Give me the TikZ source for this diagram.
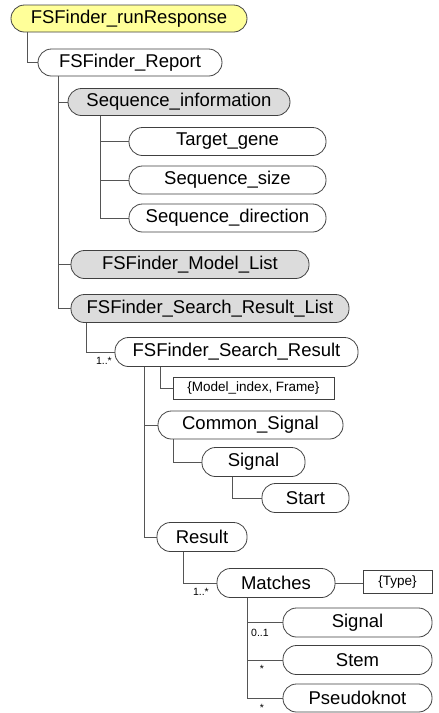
\documentclass[tikz,border=0pt]{standalone}
\usepackage{fontspec}
\setmainfont{Liberation Sans}
\definecolor{rootfill}{HTML}{FFFF99}
\definecolor{grayfill}{HTML}{DCDCDC}
\definecolor{edge}{HTML}{404040}
\definecolor{connc}{HTML}{555555}
\begin{document}
\begin{tikzpicture}[x=1pt,y=-1pt,
  box/.style={draw=edge, line width=0.8pt, rounded corners=13.5pt, minimum height=28pt, inner sep=0pt, font=\fontsize{18.5}{18.5}\selectfont},
  attr/.style={draw=edge, line width=0.8pt, inner sep=0pt, font=\fontsize{13.5}{13.5}\selectfont},
  conn/.style={draw=connc, line width=1pt},
  card/.style={font=\fontsize{10.5}{11}\selectfont, inner sep=0pt}]
\useasboundingbox (0,0) rectangle (439,713);
\fill[white] (0,0) rectangle (439,713);

% nodes
\node[box, fill=rootfill, minimum width=236pt, minimum height=27pt] (rr) at (129,18.5) {FSFinder\_runResponse};
\node[box, fill=white, minimum width=184pt, minimum height=27pt] (rep) at (130,62.5) {FSFinder\_Report};
\node[box, fill=grayfill, minimum width=222pt, minimum height=27pt] (si) at (179,102) {Sequence\_information};
\node[box, fill=white, minimum width=197pt] (tg) at (227.5,141.5) {Target\_gene};
\node[box, fill=white, minimum width=197pt] (ss) at (227.5,180) {Sequence\_size};
\node[box, fill=white, minimum width=197pt] (sd) at (227.5,218) {Sequence\_direction};
\node[box, fill=grayfill, minimum width=238pt] (ml) at (190,264.5) {FSFinder\_Model\_List};
\node[box, fill=grayfill, minimum width=278pt] (srl) at (210,308.5) {FSFinder\_Search\_Result\_List};
\node[box, fill=white, minimum width=243pt, minimum height=29pt] (sr) at (236.5,352) {FSFinder\_Search\_Result};
\node[attr, fill=white, minimum width=161pt, minimum height=22pt] (mif) at (253.5,388) {\{Model\_index, Frame\}};
\node[box, fill=white, minimum width=185pt] (cs) at (250.5,425) {Common\_Signal};
\node[box, fill=white, minimum width=103pt, minimum height=29pt] (sigA) at (253.5,462) {Signal};
\node[box, fill=white, minimum width=87pt, minimum height=29pt] (start) at (305.5,498) {Start};
\node[box, fill=white, minimum width=90pt, minimum height=29pt] (res) at (202,537) {Result};
\node[box, fill=white, minimum width=118pt, minimum height=29pt] (mat) at (276,583) {Matches};
\node[attr, fill=white, minimum width=69pt, minimum height=23pt] (type) at (397.5,582) {\{Type\}};
\node[box, fill=white, minimum width=149pt, minimum height=29pt] (sigB) at (357.5,622.5) {Signal};
\node[box, fill=white, minimum width=149pt, minimum height=29pt] (stem) at (357.5,660) {Stem};
\node[box, fill=white, minimum width=149pt, minimum height=28pt] (pk) at (357.5,698) {Pseudoknot};

% x positions of the trunk lines
\coordinate (xa) at (27,0);
\coordinate (xb) at (58,0);
\coordinate (xc) at (100,0);
\coordinate (xd) at (86,0);
\coordinate (xe) at (160,0);
\coordinate (xf) at (144,0);
\coordinate (xg) at (173,0);
\coordinate (xh) at (232,0);
\coordinate (xi) at (183,0);
\coordinate (xj) at (247,0);

% connectors
\draw[conn] (rr.south -| xa) |- (rep.west);
\draw[conn] (rep.south -| xb) |- (si.west);
\draw[conn] (rep.south -| xb) |- (ml.west);
\draw[conn] (rep.south -| xb) |- (srl.west);
\draw[conn] (si.south -| xc) |- (tg.west);
\draw[conn] (si.south -| xc) |- (ss.west);
\draw[conn] (si.south -| xc) |- (sd.west);
\draw[conn] (srl.south -| xd) |- (sr.west);
\draw[conn] (sr.south -| xe) |- (mif.west);
\draw[conn] (sr.south -| xf) |- (cs.west);
\draw[conn] (sr.south -| xf) |- (res.west);
\draw[conn] (cs.south -| xg) |- (sigA.west);
\draw[conn] (sigA.south -| xh) |- (start.west);
\draw[conn] (res.south -| xi) |- (mat.west);
\draw[conn] (mat.east) -- (mat.east -| type.west);
\draw[conn] (mat.south -| xj) |- (sigB.west);
\draw[conn] (mat.south -| xj) |- (stem.west);
\draw[conn] (mat.south -| xj) |- (pk.west);

% cardinalities
\node[card, anchor=north east] (c1) at (112,357) {1..*};
\node[card, anchor=north east] (c2) at (209,588) {1..*};
\node[card, anchor=north west] (c3) at (251,629) {0..1};
\node[card] (c4) at (262,669) {*};
\node[card] (c5) at (262,708) {*};
\end{tikzpicture}
\end{document}
